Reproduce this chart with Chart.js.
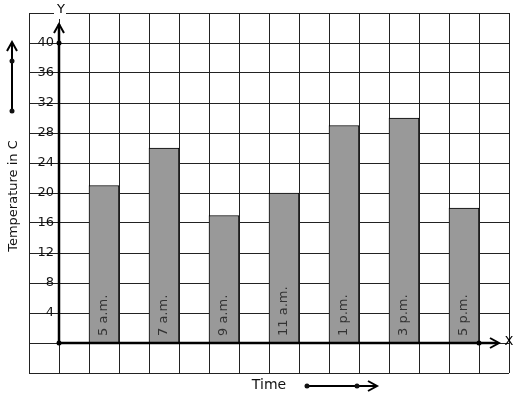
<!DOCTYPE html>
<html lang="en">
<head>
<meta charset="UTF-8" />
<title>Temperature by Time</title>
<script src="https://cdn.jsdelivr.net/npm/chart.js"></script>
<style>
    body { margin: 0; background: #fff; }
    #wrap { width: 517px; height: 399px; }
</style>
</head>
<body>
<div id="wrap"><canvas id="tempChart" width="517" height="399"></canvas></div>
<script>
  // readings
  const times = ['5 a.m.', '7 a.m.', '9 a.m.', '11 a.m.', '1 p.m.', '3 p.m.', '5 p.m.'];
  const temps = [21, 26, 17, 20, 29, 30, 18];
  const yTicks = [4, 8, 12, 16, 20, 24, 28, 32, 36, 40];

  // graph paper: one cell left of the origin, bars every other cell, one spare cell at the end
  const cells = [''];
  const cellValues = [null];
  cells.push('');
  cellValues.push(null);
  times.forEach((t, i) => {
    cells.push(t, '');
    cellValues.push(temps[i], null);
  });

  const FONT = '"DejaVu Sans", sans-serif';

  function arrowHead(ctx, x, y, dir) {
    ctx.beginPath();
    if (dir === 'up') {
      ctx.moveTo(x - 5, y + 9); ctx.lineTo(x, y); ctx.lineTo(x + 5, y + 9);
    } else {
      ctx.moveTo(x - 9, y - 5); ctx.lineTo(x, y); ctx.lineTo(x - 9, y + 5);
    }
    ctx.stroke();
  }
  function dot(ctx, x, y) {
    ctx.beginPath();
    ctx.arc(x, y, 2.5, 0, Math.PI * 2);
    ctx.fill();
  }

  const decorations = {
    id: 'decorations',
    afterDatasetsDraw(chart) {
      const ctx = chart.ctx;
      const xs = chart.scales.x, ys = chart.scales.y;
      const ox = (xs.getPixelForValue(0) + xs.getPixelForValue(1)) / 2;
      const oy = ys.getPixelForValue(0);
      const step = xs.getPixelForValue(1) - xs.getPixelForValue(0);
      ctx.save();
      ctx.strokeStyle = '#000';
      ctx.fillStyle = '#000';

      // bar labels
      const meta = chart.getDatasetMeta(0);
      ctx.font = '13px ' + FONT;
      ctx.fillStyle = '#333';
      ctx.textAlign = 'left';
      ctx.textBaseline = 'middle';
      meta.data.forEach((bar, i) => {
        if (cells[i] === '' ) return;
        ctx.save();
        ctx.translate(bar.x, oy - 7);
        ctx.rotate(-Math.PI / 2);
        ctx.fillText(cells[i], 0, 0);
        ctx.restore();
      });

      // axes
      ctx.fillStyle = '#000';
      ctx.lineWidth = 2.5;
      ctx.beginPath();
      ctx.moveTo(ox, oy); ctx.lineTo(ox, 24);
      ctx.moveTo(ox, oy); ctx.lineTo(xs.right - 11, oy);
      ctx.stroke();
      ctx.lineWidth = 2;
      arrowHead(ctx, ox, 24, 'up');
      arrowHead(ctx, xs.right - 10, oy, 'right');
      dot(ctx, ox, oy);
      dot(ctx, ox, ys.getPixelForValue(40));
      dot(ctx, ox + step * 14, oy);

      // Y / X letters
      ctx.font = '13px ' + FONT;
      ctx.textAlign = 'center';
      ctx.textBaseline = 'middle';
      ctx.fillStyle = '#fff';
      ctx.fillRect(ox - 5, 5, 12, 14);
      ctx.fillStyle = '#000';
      ctx.fillText('Y', ox + 2, 10);
      ctx.fillText('X', xs.right, oy - 1);

      // tick labels
      ctx.fillStyle = '#111';
      ctx.textAlign = 'right';
      yTicks.forEach(v => ctx.fillText(String(v), ox - 5, ys.getPixelForValue(v)));

      // y title and arrow
      ctx.save();
      ctx.translate(14, 196);
      ctx.rotate(-Math.PI / 2);
      ctx.textAlign = 'center';
      ctx.fillText('Temperature in C', 0, 0);
      ctx.restore();
      ctx.lineWidth = 2;
      ctx.beginPath();
      ctx.moveTo(12, 111); ctx.lineTo(12, 43);
      ctx.stroke();
      arrowHead(ctx, 12, 42, 'up');
      dot(ctx, 12, 111);
      dot(ctx, 12, 61);

      // x title and arrow
      ctx.font = '14px ' + FONT;
      ctx.textAlign = 'center';
      ctx.fillText('Time', 269, 385);
      ctx.beginPath();
      ctx.moveTo(307, 386); ctx.lineTo(376, 386);
      ctx.stroke();
      arrowHead(ctx, 377, 386, 'right');
      dot(ctx, 307, 386);
      dot(ctx, 357, 386);
      ctx.restore();
    }
  };

  new Chart(document.getElementById('tempChart'), {
    type: 'bar',
    data: {
      labels: cells,
      datasets: [{
        data: cellValues,
        backgroundColor: '#999999',
        borderColor: '#000',
        borderWidth: 1,
        barPercentage: 1,
        categoryPercentage: 1
      }]
    },
    options: {
      responsive: false,
      animation: false,
      layout: { padding: { left: 29, top: 13, right: 8, bottom: 26 } },
      plugins: { legend: { display: false }, tooltip: { enabled: false } },
      scales: {
        x: {
          grid: { color: '#222', lineWidth: 1, drawTicks: false, offset: true },
          border: { display: false },
          ticks: { display: false }
        },
        y: {
          min: -4,
          max: 44,
          grid: { color: '#222', lineWidth: 1, drawTicks: false },
          border: { display: false },
          ticks: { display: false, stepSize: 4 }
        }
      }
    },
    plugins: [decorations]
  });
</script>
</body>
</html>
